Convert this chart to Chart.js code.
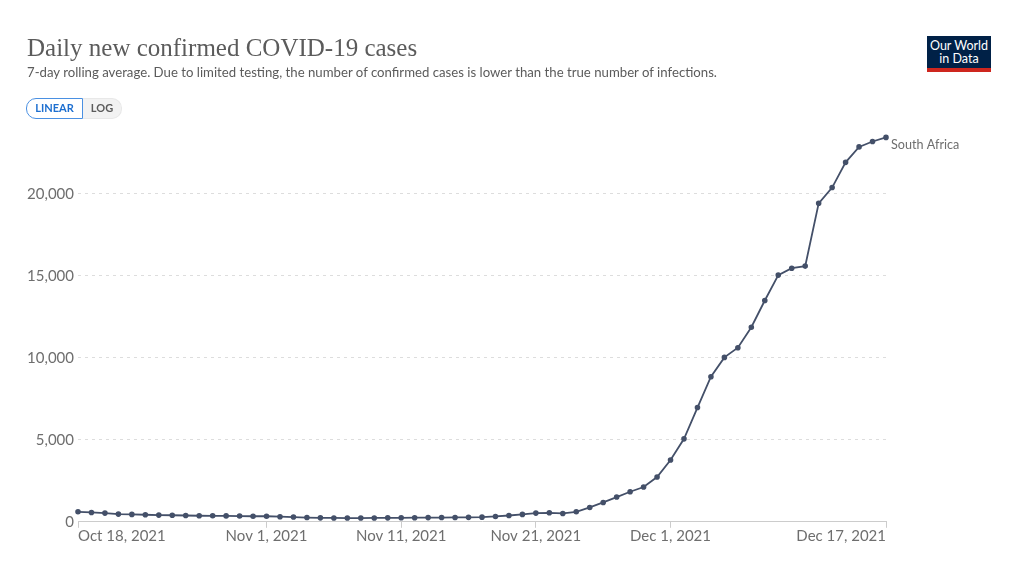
<!DOCTYPE html>
<html>
<head>
<meta charset="utf-8">
<title>Daily new confirmed COVID-19 cases</title>
<script src="https://cdn.jsdelivr.net/npm/chart.js@4"></script>
<style>
  html, body { margin: 0; padding: 0; background: #fff; }
  body { width: 1024px; height: 563px; position: relative; overflow: hidden; font-family: Lato, sans-serif; }
  #chart { position: absolute; left: 0; top: 0; }
  #titre { position: absolute; left: 27px; top: 34px; font: 25px "Liberation Serif", serif; color: #5b5b5b; white-space: nowrap; }
  #sous-titre { position: absolute; left: 27px; top: 64px; font: 13.2px Lato, sans-serif; color: #5b5b5b; white-space: nowrap; }
  .btn { position: absolute; top: 98px; height: 21px; font-size: 11px; font-weight: bold; text-align: center; box-sizing: border-box; }
  #linear { left: 26px; width: 57px; color: #1d6fd0; border: 1.5px solid #4a90e2; border-radius: 10px 0 0 10px; line-height: 18px; }
  #log { left: 83px; width: 39px; color: #5b5b5b; background: #f2f2f2; border: 1px solid #e8e8e8; border-left: 0; border-radius: 0 10px 10px 0; line-height: 18px; }
  #logo { position: absolute; left: 927px; top: 36px; width: 64px; height: 36px; box-sizing: border-box; background: #002147; border-bottom: 4px solid #ce261e; color: #fff; font-size: 12.5px; line-height: 13px; text-align: center; padding-top: 3px; }
</style>
</head>
<body>
<canvas id="chart" width="1024" height="563"></canvas>
<div id="titre">Daily new confirmed COVID-19 cases</div>
<div id="sous-titre">7-day rolling average. Due to limited testing, the number of confirmed cases is lower than the true number of infections.</div>
<div class="btn" id="linear">LINEAR</div>
<div class="btn" id="log">LOG</div>
<div id="logo">Our World<br>in Data</div>
<script>
// Données
const dates = [
  'Oct 18, 2021', 'Oct 19, 2021', 'Oct 20, 2021', 'Oct 21, 2021', 'Oct 22, 2021', 'Oct 23, 2021', 'Oct 24, 2021',
  'Oct 25, 2021', 'Oct 26, 2021', 'Oct 27, 2021', 'Oct 28, 2021', 'Oct 29, 2021', 'Oct 30, 2021', 'Oct 31, 2021',
  'Nov 1, 2021', 'Nov 2, 2021', 'Nov 3, 2021', 'Nov 4, 2021', 'Nov 5, 2021', 'Nov 6, 2021', 'Nov 7, 2021',
  'Nov 8, 2021', 'Nov 9, 2021', 'Nov 10, 2021', 'Nov 11, 2021', 'Nov 12, 2021', 'Nov 13, 2021', 'Nov 14, 2021',
  'Nov 15, 2021', 'Nov 16, 2021', 'Nov 17, 2021', 'Nov 18, 2021', 'Nov 19, 2021', 'Nov 20, 2021', 'Nov 21, 2021',
  'Nov 22, 2021', 'Nov 23, 2021', 'Nov 24, 2021', 'Nov 25, 2021', 'Nov 26, 2021', 'Nov 27, 2021', 'Nov 28, 2021',
  'Nov 29, 2021', 'Nov 30, 2021', 'Dec 1, 2021', 'Dec 2, 2021', 'Dec 3, 2021', 'Dec 4, 2021', 'Dec 5, 2021',
  'Dec 6, 2021', 'Dec 7, 2021', 'Dec 8, 2021', 'Dec 9, 2021', 'Dec 10, 2021', 'Dec 11, 2021', 'Dec 12, 2021',
  'Dec 13, 2021', 'Dec 14, 2021', 'Dec 15, 2021', 'Dec 16, 2021', 'Dec 17, 2021'
];
const cases = [
  610, 570, 530, 470, 450, 430, 410,
  400, 385, 370, 365, 360, 350, 340,
  340, 310, 290, 260, 240, 235, 230,
  230, 235, 240, 245, 250, 255, 260,
  265, 270, 285, 325, 385, 450, 530,
  550, 510, 610, 875, 1180, 1510, 1835,
  2120, 2730, 3770, 5060, 6970, 8850, 10030,
  10620, 11870, 13500, 15050, 15470, 15600, 19430,
  20390, 21930, 22870, 23200, 23450
];
const xTickLabels = ['Oct 18, 2021', 'Nov 1, 2021', 'Nov 11, 2021', 'Nov 21, 2021', 'Dec 1, 2021', 'Dec 17, 2021'];
const yTickValues = [0, 5000, 10000, 15000, 20000];
const yMax = 24000;
const seriesName = 'South Africa';

const couleurLigne = '#445069';
const couleurTexte = '#6e6e6e';

// Libellés de l'axe X (premier aligné à gauche, dernier à droite) et nom de la série
const labelsPlugin = {
  id: 'labelsPlugin',
  afterDraw(chart) {
    const ctx = chart.ctx;
    const x = chart.scales.x;
    ctx.save();
    ctx.font = '15px Lato, sans-serif';
    ctx.fillStyle = couleurTexte;
    ctx.textBaseline = 'middle';
    xTickLabels.forEach((label, i) => {
      ctx.textAlign = i === 0 ? 'left' : (i === xTickLabels.length - 1 ? 'right' : 'center');
      ctx.fillText(label, x.getPixelForValue(dates.indexOf(label)), 536);
    });
    const dernier = chart.getDatasetMeta(0).data[cases.length - 1];
    ctx.font = '12.6px Lato, sans-serif';
    ctx.textAlign = 'left';
    ctx.fillText(seriesName, dernier.x + 5, dernier.y + 7.5);
    ctx.restore();
  }
};

new Chart(document.getElementById('chart').getContext('2d'), {
  type: 'line',
  data: {
    labels: dates,
    datasets: [{
      label: seriesName,
      data: cases,
      borderColor: couleurLigne,
      backgroundColor: couleurLigne,
      borderWidth: 1.8,
      pointRadius: 1.9,
      pointHoverRadius: 1.9,
      tension: 0
    }]
  },
  options: {
    responsive: false,
    devicePixelRatio: 1,
    animation: false,
    layout: { padding: { left: 0, right: 138, top: 128.4, bottom: 41.2 } },
    plugins: { legend: { display: false }, tooltip: { enabled: false }, title: { display: false } },
    scales: {
      x: {
        type: 'category',
        offset: false,
        afterBuildTicks: (scale) => {
          scale.ticks = xTickLabels.map(label => ({ value: dates.indexOf(label), label: label }));
        },
        afterFit: (scale) => { scale.height = 0; },
        ticks: { display: false, autoSkip: false },
        grid: { drawOnChartArea: false, drawTicks: true, tickLength: 6, color: '#cccccc' },
        border: { color: '#cccccc', width: 1 }
      },
      y: {
        min: 0,
        max: yMax,
        afterFit: (scale) => { scale.width = 78; },
        afterBuildTicks: (scale) => {
          scale.ticks = yTickValues.map(v => ({ value: v }));
        },
        ticks: {
          autoSkip: false,
          padding: 4,
          color: couleurTexte,
          font: { family: 'Lato, sans-serif', size: 15 },
          callback: (v) => v.toLocaleString('en-US')
        },
        grid: {
          drawTicks: false,
          color: (c) => c.tick && c.tick.value === 0 ? 'transparent' : '#dddddd'
        },
        border: { display: false, dash: [3, 4] }
      }
    }
  },
  plugins: [labelsPlugin]
});
</script>
</body>
</html>
